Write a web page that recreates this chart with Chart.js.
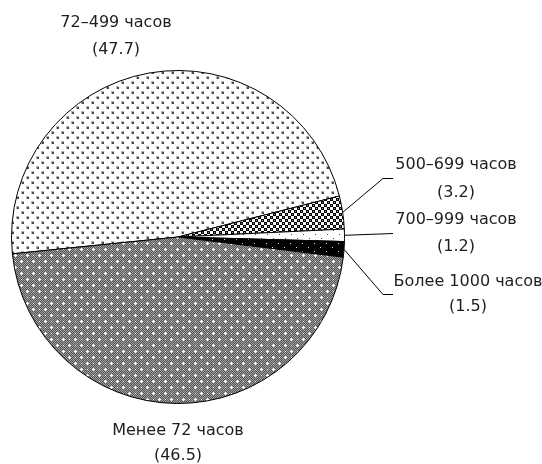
<!DOCTYPE html>
<html>
<head>
<meta charset="utf-8">
<script src="https://cdn.jsdelivr.net/npm/chart.js@4/dist/chart.umd.min.js"></script>
<style>
html,body{margin:0;padding:0;background:#fff;}
#wrap{width:542px;height:464px;position:relative;}
</style>
</head>
<body>
<div id="wrap"><canvas id="c" width="542" height="464"></canvas></div>
<script>
// ---- data ----
const categories = ['72–499 часов', '500–699 часов', '700–999 часов', 'Более 1000 часов', 'Менее 72 часов'];
const shares = [47.7, 3.2, 1.2, 1.5, 46.5];
const valueLabels = ['(47.7)', '(3.2)', '(1.2)', '(1.5)', '(46.5)'];

// ---- patterns ----
function makePattern(w, h, draw) {
  const c = document.createElement('canvas');
  c.width = w; c.height = h;
  const g = c.getContext('2d');
  draw(g, w, h);
  return g.createPattern(c, 'repeat');
}
const patDots = makePattern(10, 10, (g, w, h) => {
  g.fillStyle = '#fff'; g.fillRect(0, 0, w, h);
  [[2, 2], [7, 7]].forEach(([x, y]) => {
    g.fillStyle = '#b5b5b5'; g.fillRect(x - 1, y - 1, 3, 3);
    g.fillStyle = '#4a4a4a'; g.fillRect(x, y, 2, 2);
  });
});
const patGrey = makePattern(12, 12, (g, w, h) => {
  for (let y = 0; y < h; y++) for (let x = 0; x < w; x++) {
    g.fillStyle = ((x + y) % 2) ? '#555' : '#a0a0a0';
    g.fillRect(x, y, 1, 1);
  }
  g.fillStyle = '#fff';
  [[3, 3], [9, 9]].forEach(([x, y]) => {
    g.fillRect(x - 1, y, 3, 1); g.fillRect(x, y - 1, 1, 3);
  });
  g.fillRect(9, 3, 1, 1); g.fillRect(3, 9, 1, 1);
});
const patCheck = makePattern(6, 6, (g, w, h) => {
  g.fillStyle = '#fff'; g.fillRect(0, 0, w, h);
  g.fillStyle = '#000'; g.fillRect(0, 0, 3, 3); g.fillRect(3, 3, 3, 3);
  g.fillStyle = '#888'; g.fillRect(1, 1, 1, 1); g.fillRect(4, 4, 1, 1);
});
const patWhiteDots = makePattern(12, 8, (g, w, h) => {
  g.fillStyle = '#fff'; g.fillRect(0, 0, w, h);
  g.fillStyle = '#444'; g.fillRect(3, 2, 1, 1); g.fillRect(9, 6, 1, 1);
});
const patBlackDots = makePattern(12, 8, (g, w, h) => {
  g.fillStyle = '#000'; g.fillRect(0, 0, w, h);
  g.fillStyle = '#ddd'; g.fillRect(2, 3, 1, 1); g.fillRect(8, 7, 1, 1);
});
const fills = [patDots, patCheck, patWhiteDots, patBlackDots, patGrey];

// ---- label layout (positions of text blocks, leader elbows) ----
const FONT = '16px "DejaVu Sans"';
const labelLayout = [
  { cx: 116, y1: 23, y2: 50, leader: null },
  { cx: 456, y1: 165, y2: 193, leader: [[383, 178], [393, 178]] },
  { cx: 456, y1: 220, y2: 247, leader: [[393, 233]] },
  { cx: 468, y1: 282, y2: 307, leader: [[383, 294], [393, 294]] },
  { cx: 178, y1: 431, y2: 456, leader: null }
];

const labelPlugin = {
  id: 'pieLabels',
  afterDatasetsDraw(chart) {
    const ctx = chart.ctx;
    const meta = chart.getDatasetMeta(0);
    ctx.save();
    ctx.font = FONT;
    ctx.fillStyle = '#1e1e1e';
    ctx.textAlign = 'center';
    ctx.textBaseline = 'middle';
    meta.data.forEach((arc, i) => {
      const L = labelLayout[i];
      const p = arc.getProps(['x', 'y', 'startAngle', 'endAngle', 'outerRadius'], true);
      if (L.leader) {
        const mid = (p.startAngle + p.endAngle) / 2;
        ctx.beginPath();
        ctx.strokeStyle = '#000';
        ctx.lineWidth = 1;
        ctx.moveTo(p.x + Math.cos(mid) * p.outerRadius, p.y + Math.sin(mid) * p.outerRadius);
        L.leader.forEach(([x, y]) => ctx.lineTo(x, y + 0.5));
        ctx.stroke();
      }
      ctx.fillText(chart.data.labels[i], L.cx, L.y1);
      ctx.fillText(valueLabels[i], L.cx, L.y2);
    });
    ctx.restore();
  }
};

new Chart(document.getElementById('c'), {
  type: 'pie',
  data: {
    labels: categories,
    datasets: [{
      data: shares,
      backgroundColor: fills,
      borderColor: '#000',
      borderWidth: 1
    }]
  },
  options: {
    responsive: false,
    animation: false,
    events: [],
    rotation: 264.2,
    layout: { padding: { left: 11, right: 197, top: 70, bottom: 60 } },
    plugins: { legend: { display: false }, tooltip: { enabled: false }, title: { display: false } }
  },
  plugins: [labelPlugin]
});
</script>
</body>
</html>
